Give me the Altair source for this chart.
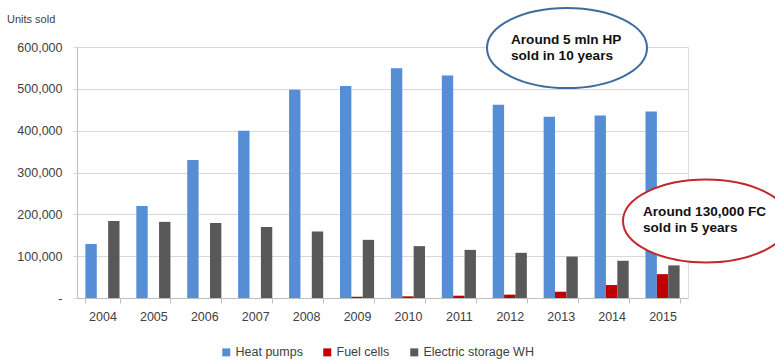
import altair as alt
import pandas as pd

years = ["2004", "2005", "2006", "2007", "2008", "2009", "2010", "2011", "2012", "2013", "2014", "2015"]
heat_pumps = [129000, 220000, 330000, 400000, 498000, 507000, 549000, 532000, 462000, 433000, 436000, 446000]
fuel_cells = [0, 0, 0, 0, 0, 3000, 4000, 5500, 8000, 15000, 31000, 57000]
electric_wh = [184000, 182000, 179000, 170000, 159000, 139000, 124000, 115000, 108000, 99000, 89000, 78000]
series = ["Heat pumps", "Fuel cells", "Electric storage WH"]
colors = ["#558ED5", "#C00000", "#595959"]
y_ticks = [0, 100000, 200000, 300000, 400000, 500000, 600000]

rows = []
for i, yr in enumerate(years):
    for s, vals in zip(series, [heat_pumps, fuel_cells, electric_wh]):
        rows.append({"year": yr, "series": s, "value": vals[i]})
df = pd.DataFrame(rows)

FONT = "Liberation Sans"
LABEL_COLOR = "#404040"

bars = alt.Chart(df).mark_bar().encode(
    x=alt.X("year:N", sort=years, title=None,
            scale=alt.Scale(paddingInner=0.33, paddingOuter=0.165),
            axis=alt.Axis(labelAngle=0, labelFontSize=12.5, labelFont=FONT, labelColor=LABEL_COLOR,
                          domainColor="#bfbfbf", tickColor="#bfbfbf", tickSize=5, tickBand="extent",
                          labelPadding=7, grid=False)),
    xOffset=alt.XOffset("series:N", sort=series, scale=alt.Scale(paddingInner=0, paddingOuter=0)),
    y=alt.Y("value:Q", title=None,
            scale=alt.Scale(domain=[0, 600000], nice=False),
            axis=alt.Axis(values=y_ticks, labelExpr="datum.value == 0 ? '-' : format(datum.value, ',')",
                          labelFontSize=12.5, labelFont=FONT, labelColor=LABEL_COLOR,
                          domainColor="#bfbfbf", tickColor="#d9d9d9", tickSize=4, labelPadding=11,
                          gridColor="#d9d9d9", gridWidth=1)),
    color=alt.Color("series:N", sort=series,
                    scale=alt.Scale(domain=series, range=colors),
                    legend=alt.Legend(title=None, orient="none", direction="horizontal",
                                      legendX=143, legendY=299, symbolType="square", symbolSize=64,
                                      labelFontSize=12.5, labelFont=FONT, labelColor=LABEL_COLOR,
                                      columnPadding=18, labelOffset=3, symbolStrokeWidth=0)),
)

one = pd.DataFrame({"a": [0]})
ellipse_path = ("M -1 0 C -1 -0.276 -0.552 -0.5 0 -0.5 C 0.552 -0.5 1 -0.276 1 0 "
                "C 1 0.276 0.552 0.5 0 0.5 C -0.552 0.5 -1 0.276 -1 0 Z")

blue_ell = alt.Chart(one).mark_point(shape=ellipse_path, filled=True, fill="white", fillOpacity=1,
                                     stroke="#3E6C9C", strokeWidth=2, opacity=1, size=160 * 160).encode(
    x=alt.value(490), y=alt.value(1))
red_ell = alt.Chart(one).mark_point(shape=ellipse_path, filled=True, fill="white", fillOpacity=1,
                                    stroke="#C0282D", strokeWidth=2, opacity=1, size=166 * 166).encode(
    x=alt.value(629), y=alt.value(174))

blue_txt = alt.Chart(one).mark_text(align="left", baseline="middle", fontSize=13.6, fontWeight="bold",
                                    font=FONT, color="#111111", lineHeight=16).encode(
    x=alt.value(434), y=alt.value(-7), text=alt.value(["Around 5 mln HP", "sold in 10 years"]))
red_txt = alt.Chart(one).mark_text(align="left", baseline="middle", fontSize=13.6, fontWeight="bold",
                                   font=FONT, color="#111111", lineHeight=16).encode(
    x=alt.value(566), y=alt.value(165), text=alt.value(["Around 130,000 FC", "sold in 5 years"]))

units = alt.Chart(one).mark_text(align="left", baseline="middle", fontSize=11, font=FONT,
                                 color=LABEL_COLOR).encode(
    x=alt.value(-70), y=alt.value(-27), text=alt.value("Units sold"))

chart = alt.layer(bars, blue_ell, red_ell, blue_txt, red_txt, units).properties(
    width=611, height=251,
    autosize=alt.AutoSizeParams(type="none"),
    padding={"left": 77, "top": 47, "right": 87, "bottom": 63},
).configure_view(stroke="transparent", strokeWidth=0, strokeOpacity=0).configure(background="white")

chart.save("out.html", embed_options={"renderer": "svg", "actions": False})
